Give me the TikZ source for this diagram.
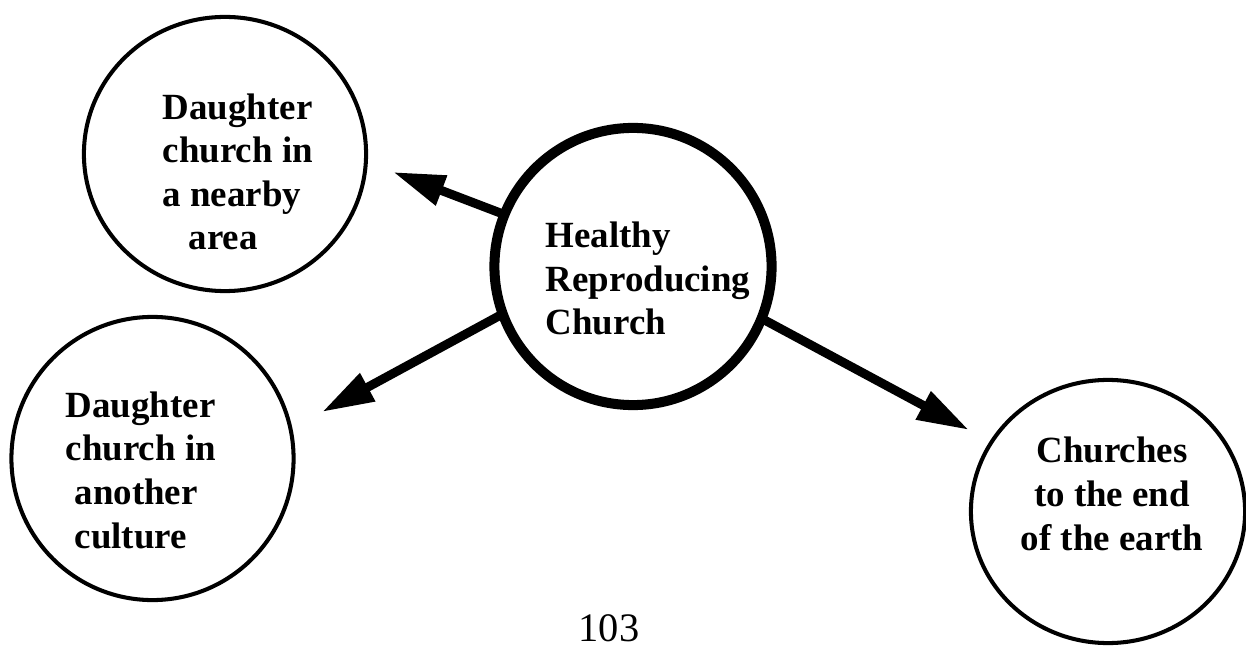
\documentclass[tikz,border=0pt]{standalone}
\usepackage{fontspec}
\setmainfont{Liberation Serif}
\usetikzlibrary{arrows.meta,shapes.geometric}

\begin{document}
\begin{tikzpicture}[x=0.01cm,y=-0.01cm,
    church/.style={draw,ellipse,line width=1.15pt,inner sep=0pt,outer sep=0pt},
    words/.style={font=\fontsize{10.5}{12.4}\selectfont\bfseries,inner sep=0pt},
    spread/.style={line width=2.55pt,-{Triangle[length=14.8pt,width=8.5pt]}}]
  \useasboundingbox (0,0) rectangle (1246,646);

  % the four churches
  \node[church,minimum width=2.82cm,minimum height=2.74cm] (near) at (225,154) {};
  \node[church,minimum width=2.82cm,minimum height=2.83cm] (other) at (152.5,458.5) {};
  \node[church,minimum width=2.74cm,minimum height=2.63cm] (earth) at (1108,511.5) {};
  \node[draw,circle,line width=2.85pt,minimum size=2.77cm,inner sep=0pt,outer sep=0pt] (hub) at (633,266.5) {};

  % texts, placed by the baseline of their last line
  \node[words,align=left,anchor=base west] (neartext) at (162,250)
    {Daughter\\church in\\a nearby\\\hspace*{0.26cm}area};
  \node[words,align=left,anchor=base west] (othertext) at (65,548)
    {Daughter\\church in\\\hspace*{0.09cm}another\\\hspace*{0.09cm}culture};
  \node[words,align=center,anchor=base] (earthtext) at (1112,550)
    {Churches\\to the end\\of the earth};
  \node[words,align=left,anchor=base west] (hubtext) at (545,335)
    {Healthy\\Reproducing\\Church};

  % arrows out of the hub
  \coordinate (tipnear) at (393,172);
  \coordinate (tipother) at (322,412);
  \coordinate (tipearth) at (969,430);
  \draw[spread] (hub.158) -- (tipnear);
  \draw[spread] (hub.200) -- (tipother);
  \draw[spread] (hub.-22) -- (tipearth);

  \node[font=\fontsize{11.5}{14}\selectfont,anchor=base,inner sep=0pt] (page) at (609,641) {103};
\end{tikzpicture}
\end{document}
